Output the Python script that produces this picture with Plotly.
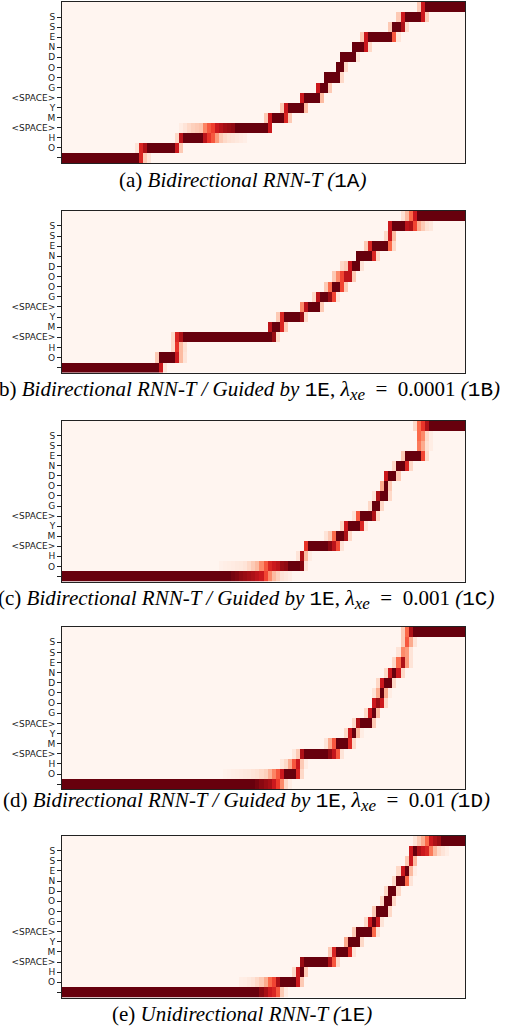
import plotly.graph_objects as go

# ---------------- data ----------------
TOKENS = ["", "O", "H", "<SPACE>", "M", "Y", "<SPACE>", "G", "O", "O", "D", "N", "E", "S", "S"]
N_FRAMES = 100
N_ROWS = 16

# each output row (bottom to top): (first frame, leading fade values, number of saturated frames, trailing fade values)
ALIGN_A = [
    (0, [], 19, [0.7, 0.2, 0.1]),
    (18, [0.1, 0.7, 0.85], 7, [0.75, 0.2]),
    (28, [0.15, 0.8], 5, [0.8, 0.65, 0.55, 0.35, 0.2, 0.15, 0.12, 0.1, 0.08, 0.06, 0.04]),
    (29, [0.05, 0.1, 0.15, 0.18, 0.2, 0.22, 0.42, 0.55, 0.62, 0.75, 0.82, 0.88, 0.9, 0.92], 8, [0.75]),
    (50, [0.2, 0.75], 3, [0.7, 0.2]),
    (54, [0.2, 0.75], 4, [0.25]),
    (59, [0.75], 4, [0.25]),
    (63, [0.75], 2, [0.2]),
    (65, [], 4, [0.15]),
    (68, [], 2, [0.15]),
    (69, [], 4, [0.1]),
    (72, [], 3, [0.75, 0.15]),
    (74, [0.2, 0.75], 6, [0.55, 0.1]),
    (81, [0.2], 2, [0.85, 0.15]),
    (83, [0.2, 0.75], 4, [0.75, 0.2]),
    (88, [0.2, 0.75], 10, []),
]

ALIGN_B = [
    (0, [], 24, [0.75, 0.1]),
    (23, [0.2], 4, [0.75, 0.25, 0.1]),
    (27, [0.15, 0.65, 0.25, 0.12], 0, []),
    (27, [0.15, 0.7, 0.85], 22, [0.9, 0.15]),
    (51, [0.8], 2, [0.7, 0.2]),
    (53, [0.2, 0.7], 4, [0.9, 0.15]),
    (59, [0.4, 0.8], 3, [0.2]),
    (62, [0.15, 0.8], 2, [0.9, 0.6, 0.1]),
    (65, [0.2, 0.5], 2, [0.6, 0.2]),
    (67, [0.2, 0.4, 0.6, 0.8, 0.8, 0.2], 0, []),
    (69, [0.15, 0.2, 0.75], 2, [0.1]),
    (73, [], 4, [0.7, 0.15]),
    (75, [0.2, 0.7], 4, [0.5, 0.15]),
    (80, [0.15, 0.75, 0.25], 0, []),
    (81, [0.75], 3, [0.8, 0.85, 0.6, 0.3, 0.2, 0.12, 0.08]),
    (84, [0.12, 0.25, 0.5, 0.75], 12, []),
]

ALIGN_C = [
    (0, [], 42, [0.97, 0.95, 0.92, 0.9, 0.88, 0.85, 0.8, 0.75, 0.6, 0.4, 0.25, 0.18, 0.1, 0.07, 0.04]),
    (39, [0.03, 0.04, 0.05, 0.06, 0.07, 0.08, 0.1, 0.15, 0.2, 0.25, 0.4, 0.55, 0.7, 0.75, 0.8, 0.9, 0.92], 3, [0.95, 0.1]),
    (58, [0.1, 0.85, 0.25, 0.05], 0, []),
    (60, [0.65], 5, [0.93, 0.8, 0.58, 0.1]),
    (65, [0.1, 0.2, 0.5], 2, [0.85, 0.15]),
    (69, [0.15, 0.75], 3, [0.7, 0.1]),
    (72, [0.1, 0.55], 3, [0.85, 0.15]),
    (76, [0.15], 2, [0.15]),
    (77, [0.1, 0.85], 2, [0.15]),
    (79, [0.3], 1, [0.2]),
    (80, [0.75], 2, [0.2]),
    (82, [0.15], 2, [0.7, 0.15]),
    (84, [0.2], 4, [0.6, 0.15]),
    (88, [0.45, 0.3, 0.12, 0.05], 0, []),
    (88, [0.5, 0.4, 0.15, 0.05], 0, []),
    (87, [0.15, 0.5, 0.65, 0.85], 9, []),
]

ALIGN_D = [
    (0, [], 48, [0.97, 0.93, 0.9, 0.87, 0.75, 0.63, 0.4, 0.15, 0.05]),
    (40, [0.02, 0.03, 0.04, 0.05, 0.06, 0.07, 0.08, 0.1, 0.12, 0.15, 0.18, 0.28, 0.42, 0.55, 0.75], 3, [0.7, 0.15]),
    (54, [0.08, 0.15, 0.3, 0.55, 0.75, 0.2, 0.05], 0, []),
    (57, [0.08, 0.2, 0.85], 6, [0.92, 0.78, 0.55, 0.1]),
    (65, [0.1, 0.3, 0.55], 3, [0.7, 0.15]),
    (70, [0.15, 0.75], 1, [0.25, 0.05]),
    (72, [0.15, 0.85], 3, [0.2]),
    (75, [0.15, 0.75], 1, [0.25]),
    (77, [0.75, 0.9, 0.75, 0.15], 0, []),
    (77, [0.1, 0.3], 1, [0.3, 0.05]),
    (78, [0.15, 0.75], 2, [0.15]),
    (80, [0.15, 0.75], 1, [0.75, 0.15]),
    (82, [0.15, 0.5, 0.85, 0.35, 0.1], 0, []),
    (83, [0.1, 0.4, 0.35, 0.1], 0, []),
    (84, [0.2, 0.55, 0.3, 0.1], 0, []),
    (84, [0.2, 0.5, 0.85], 13, []),
]

ALIGN_E = [
    (0, [], 49, [0.93, 0.87, 0.75, 0.7, 0.55, 0.2, 0.06]),
    (44, [0.04, 0.05, 0.07, 0.1, 0.15, 0.2, 0.3, 0.5, 0.6, 0.85], 4, [0.75, 0.2]),
    (57, [0.15, 0.75], 1, [0.2]),
    (59, [0.9], 6, [0.85, 0.55, 0.15]),
    (66, [0.2, 0.7], 3, [0.7, 0.1]),
    (70, [0.3], 3, [0.15]),
    (72, [0.2], 4, [0.5, 0.1]),
    (75, [0.15, 0.75], 1, [0.75, 0.1]),
    (77, [0.2], 3, [0.15]),
    (79, [0.15], 2, [0.15]),
    (80, [0.15], 2, [0.15]),
    (82, [0.15], 2, [0.5, 0.1]),
    (83, [0.15, 0.75], 1, [0.25, 0.05]),
    (85, [0.2, 0.75, 0.25], 0, []),
    (86, [0.75], 1, [0.85, 0.75, 0.7, 0.45, 0.25, 0.15, 0.1, 0.05]),
    (87, [0.1, 0.2, 0.3, 0.5, 0.75, 0.85, 0.9], 6, []),
]

PANEL_LETTERS = ["a", "b", "c", "d", "e"]
PANEL_MODELS = ["Bidirectional RNN-T", "Bidirectional RNN-T", "Bidirectional RNN-T",
                "Bidirectional RNN-T", "Unidirectional RNN-T"]
PANEL_LAMBDAS = [None, "0.0001", "0.001", "0.01", None]
PANEL_CODES = ["1A", "1B", "1C", "1D", "1E"]
GUIDE_CODE = "1E"

# ---------------- layout constants ----------------
W, H = 516, 1027
ML, MR, MT, MB = 62, 51, 2, 29
PANEL_PX = [(2, 163), (210.7, 372.7), (420.5, 581.5), (627, 789.3), (835.5, 997.5)]
CAPTION_Y_PX = [180, 390, 599, 801, 1014]
CAPTION_X_PX = [242, 246, 246, 246, 242]

REDS = [[0.0, "#fff5f0"], [0.125, "#fee0d2"], [0.25, "#fcbba1"], [0.375, "#fc9272"],
        [0.5, "#fb6a4a"], [0.625, "#ef3b2c"], [0.75, "#cb181d"], [0.875, "#a50f15"],
        [1.0, "#67000d"]]


def build_matrix(rows):
    z = [[0.0] * N_FRAMES for _ in range(N_ROWS)]
    for r, (start, lead, run, tail) in enumerate(rows):
        vals = list(lead) + [1.0] * run + list(tail)
        for k, v in enumerate(vals):
            c = start + k
            if 0 <= c < N_FRAMES:
                z[r][c] = v
    return z


plot_h = H - MT - MB
plot_w = W - ML - MR


def ydom(top, bot):
    return [max(0.0, (H - MB - bot) / plot_h), min(1.0, (H - MB - top) / plot_h)]


def ypaper(ypx):
    return (H - MB - ypx) / plot_h


MONO = "Liberation Mono"


def caption(i):
    code = f"<span style=\"font-family:{MONO}\">{PANEL_CODES[i]}</span>"
    txt = f"({PANEL_LETTERS[i]}) <i>{PANEL_MODELS[i]}"
    if PANEL_LAMBDAS[i] is not None:
        txt += f" / Guided by</i> <span style=\"font-family:{MONO}\">{GUIDE_CODE}</span>, "
        txt += (f"<i><span style=\"font-size:22px\">λ</span>"
                f"<sub><span style=\"font-size:17px\">xe</span></sub></i>"
                f"&nbsp; = &nbsp;{PANEL_LAMBDAS[i]} <i>(</i>{code}<i>)</i>")
    else:
        txt += f" (</i>{code}<i>)</i>"
    return txt


fig = go.Figure()
ticktext = [t.replace("<", "&lt;").replace(">", "&gt;") for t in TOKENS]
all_rows = [ALIGN_A, ALIGN_B, ALIGN_C, ALIGN_D, ALIGN_E]

layout_axes = {}
for i, rows in enumerate(all_rows):
    n = "" if i == 0 else str(i + 1)
    fig.add_trace(go.Heatmap(
        z=build_matrix(rows),
        x=list(range(N_FRAMES)),
        y=list(range(N_ROWS)),
        zmin=0, zmax=1,
        colorscale=REDS,
        showscale=False,
        xaxis="x" + n, yaxis="y" + n,
        hoverinfo="skip",
    ))
    layout_axes["xaxis" + n] = dict(
        domain=[0, 1], anchor="y" + n, range=[-0.5, N_FRAMES - 0.5],
        showticklabels=False, ticks="", showgrid=False, zeroline=False,
        showline=True, mirror=True, linecolor="#222", linewidth=1,
    )
    layout_axes["yaxis" + n] = dict(
        domain=ydom(*PANEL_PX[i]), anchor="x" + n, range=[-0.5, N_ROWS - 0.5],
        tickmode="array", tickvals=list(range(len(TOKENS))), ticktext=ticktext,
        ticks="outside", ticklen=4, tickwidth=1, tickcolor="#222",
        tickfont=dict(family="DejaVu Sans", size=9, color="#222"),
        showgrid=False, zeroline=False,
        showline=True, mirror=True, linecolor="#222", linewidth=1,
    )

annotations = []
for i in range(5):
    annotations.append(dict(
        text=caption(i), xref="paper", yref="paper",
        x=(CAPTION_X_PX[i] - ML) / plot_w, y=ypaper(CAPTION_Y_PX[i]),
        xanchor="center", yanchor="middle", showarrow=False,
        font=dict(family="Liberation Serif", size=21, color="black"),
    ))

fig.update_layout(
    width=W, height=H,
    margin=dict(l=ML, r=MR, t=MT, b=MB),
    paper_bgcolor="white", plot_bgcolor="white",
    showlegend=False,
    annotations=annotations,
    **layout_axes,
)

fig.write_html(
    "out.html",
    config={"displayModeBar": False, "staticPlot": True},
    post_script="document.body.style.margin='0';document.body.style.overflow='hidden';",
)
